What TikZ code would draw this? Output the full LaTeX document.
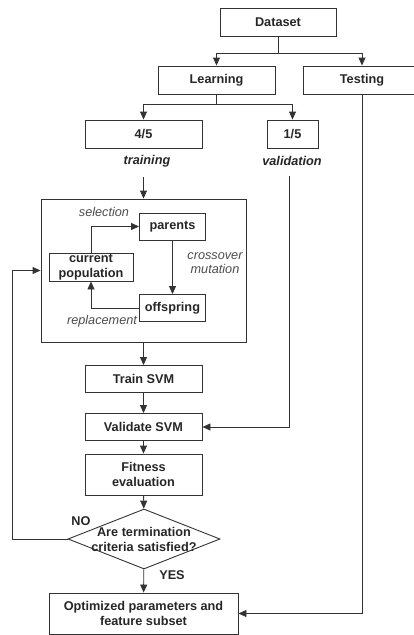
\documentclass[tikz,border=0pt]{standalone}
\usepackage{fontspec}
\setmainfont{Liberation Sans}
\usetikzlibrary{shapes,positioning,arrows.meta,calc}

\begin{document}
\begin{tikzpicture}[
    x=1pt, y=-1pt,
    font=\fontsize{12.7}{15}\selectfont,
    block/.style ={
        rectangle,
        draw=black!80,
        line width=0.9pt,
        inner sep=0pt,
        align=center,
        font=\fontsize{12.7}{14.5}\selectfont\bfseries,
        text=black!85,
        minimum width=#1,
        minimum height=28pt
    },
    block/.default=117pt,
    decision/.style ={
        diamond,
        draw=black!80,
        line width=0.9pt,
        inner sep=0pt,
        minimum width=152pt,
        minimum height=60pt
    },
    tag/.style ={
        font=\fontsize{12.7}{15}\selectfont\bfseries\itshape,
        text=black!85
    },
    op/.style ={
        font=\fontsize{12.7}{14}\selectfont\itshape,
        text=black!70,
        align=center
    },
    arr/.style ={
        draw=black!80,
        line width=0.9pt,
        -{Triangle[length=8pt,width=7pt]}
    }
    ]
    \useasboundingbox (0,0) rectangle (413,635);
    % top of the tree
    \node[block=116pt] (data) at (278,22) {Dataset};
    \node[block] (learn) at (216.5,80) {Learning};
    \node[block] (test) at (362,80) {Testing};
    \node[block] (four) at (143.5,134) {4/5};
    \node[block=51pt] (one) at (292.5,134) {1/5};
    \node[tag] (trainlbl) at (147,161) {training};
    \node[tag] (validlbl) at (292,161) {validation};
    \coordinate (split1) at (278,53);
    \coordinate (split2) at (216.5,104);
    \draw[arr] (data) -- (split1) -| (learn);
    \draw[arr] (split1) -| (test);
    \draw[arr] (learn) -- (split2) -| (four);
    \draw[arr] (split2) -| (one);
    % genetic loop
    \node[block=205pt, minimum height=143pt] (gabox) at (143.5,270.5) {};
    \node[block=66pt, minimum height=27pt] (parents) at (172.5,226.5) {parents};
    \node[block=84pt] (curpop) at (91,267) {current\\population};
    \node[block=66pt, minimum height=27pt] (offspring) at (172.5,308) {offspring};
    \node[op] (sel) at (104,212) {selection};
    \node[op] (cross) at (215,263) {crossover\\mutation};
    \node[op] (repl) at (102,321) {replacement};
    \draw[arr] ([yshift=-7pt]trainlbl.south -| gabox.north) -- (gabox.north);
    \draw[arr] (curpop) |- (parents);
    \draw[arr] (parents) -- (offspring);
    \draw[arr] (offspring) -| (curpop);
    % evaluation
    \node[block, minimum height=27pt] (trainsvm) at (143.5,379) {Train SVM};
    \node[block, minimum height=27pt] (validate) at (143.5,427) {Validate SVM};
    \node[block, minimum height=41pt] (fitness) at (143.5,474.5) {Fitness\\evaluation};
    \node[decision, label={[align=center, font=\fontsize{12.7}{15}\selectfont\bfseries, text=black!85]center:Are termination\\criteria satisfied?}] (term) at (144,539) {};
    \node[block=189pt, minimum height=41pt] (opt) at (143.5,613.5) {Optimized parameters and\\feature subset};
    \node[tag, font=\fontsize{12.7}{15}\selectfont\bfseries] (no) at (81,521) {NO};
    \node[tag, font=\fontsize{12.7}{15}\selectfont\bfseries] (yes) at (172,575) {YES};
    \draw[arr] (gabox) -- (trainsvm);
    \draw[arr] (trainsvm) -- (validate);
    \draw[arr] (validate) -- (fitness);
    \draw[arr] (fitness) -- (term);
    \draw[arr] (term) -- (opt);
    \draw[arr] (term.west) -- ++(-55,0) |- (gabox.west);
    \draw[arr] ([yshift=-7pt]validlbl.south) ++(-3,0) |- (validate.east);
    \draw[arr] (test) |- (opt.east);
\end{tikzpicture}
\end{document}
